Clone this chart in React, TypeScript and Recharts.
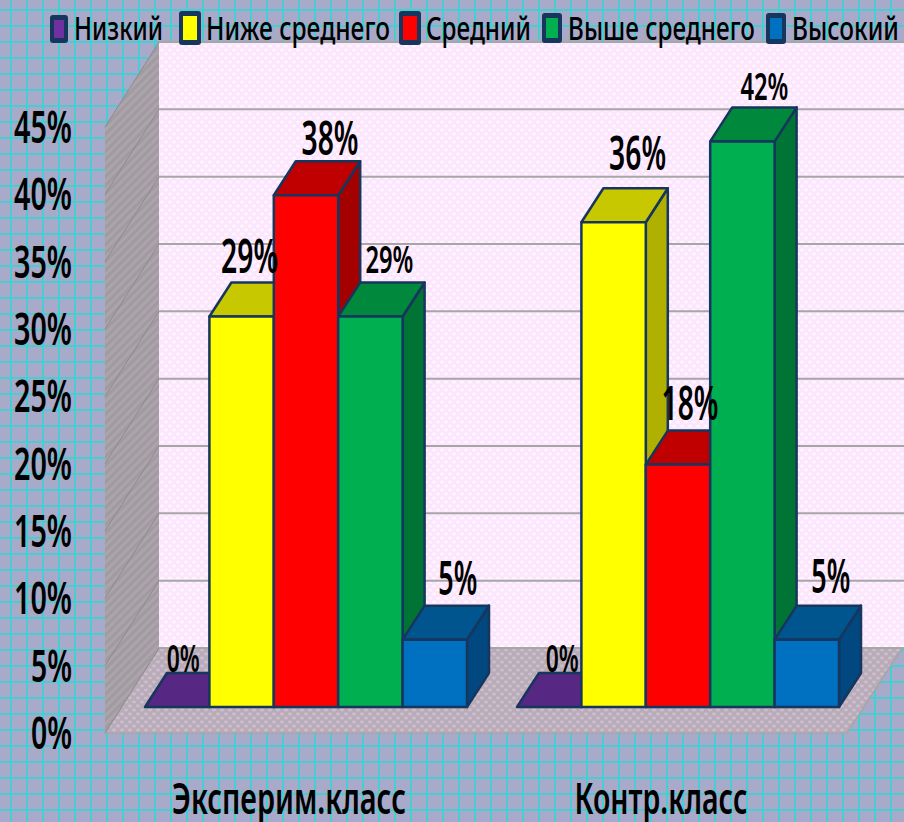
import React, { useLayoutEffect, useRef, useState } from "react";
import { BarChart, Bar, XAxis, YAxis, CartesianGrid, LabelList, Legend } from "recharts";

const categories = ["Эксперим.класс", "Контр.класс"];
const lowValues = [0, 0];
const belowAvgValues = [29, 36];
const avgValues = [38, 18];
const aboveAvgValues = [29, 42];
const highValues = [5, 5];
const percentTicks = [0, 5, 10, 15, 20, 25, 30, 35, 40, 45];

const tableData = categories.map((name, i) => ({
  name,
  low: lowValues[i],
  belowAvg: belowAvgValues[i],
  avg: avgValues[i],
  aboveAvg: aboveAvgValues[i],
  high: highValues[i],
}));

const FONT = "'Noto Sans', sans-serif";
const NAVY = "#17365d";
const DEPTH_X = 22;
const DEPTH_Y = 34;

const SERIES = [
  { key: "low", name: "Низкий", front: "#7030a0", top: "#562783", side: "#4a2070" },
  { key: "belowAvg", name: "Ниже среднего", front: "#ffff00", top: "#c8c800", side: "#b0b000" },
  { key: "avg", name: "Средний", front: "#ff0000", top: "#c00000", side: "#a50000" },
  { key: "aboveAvg", name: "Выше среднего", front: "#00b050", top: "#00883d", side: "#007434" },
  { key: "high", name: "Высокий", front: "#0070c0", top: "#00558f", side: "#00487f" },
];

// hand placement of legend items, x of marker / x and width of text
const LEGEND_LAYOUT: Record<string, any> = {
  low: { mx: 50, mw: 18, my: 15, mh: 28, tx: 74, tw: 89 },
  belowAvg: { mx: 179, mw: 22, my: 11, mh: 34, tx: 206, tw: 184 },
  avg: { mx: 399, mw: 22, my: 11, mh: 34, tx: 426, tw: 105 },
  aboveAvg: { mx: 542, mw: 20, my: 13, mh: 30, tx: 568, tw: 187 },
  high: { mx: 766, mw: 20, my: 13, mh: 31, tx: 792, tw: 107 },
};

// data labels were placed by hand in the original: [dx from bar centre, dy of baseline from bar top]
const LABEL_NUDGE: Record<string, number[][]> = {
  low: [[6, -35], [13, -35]],
  belowAvg: [[8, -43], [24, -52]],
  avg: [[24, -40], [12, -45]],
  aboveAvg: [[19, -43], [22, -41]],
  high: [[23, -45], [24, -47]],
};
const SMALL_LABELS = ["low", "aboveAvg"];

// the source font is very condensed, so squeeze the text horizontally to a measured width
const FitText = ({ x, y, width, anchor = "start", size, weight, children }: any) => {
  const ref = useRef<SVGTextElement>(null);
  const [scale, setScale] = useState(1);
  useLayoutEffect(() => {
    if (ref.current) setScale(width / ref.current.getComputedTextLength());
  }, [width, children]);
  return (
    <text
      ref={ref}
      transform={`translate(${x},${y}) scale(${scale},1)`}
      textAnchor={anchor}
      fontFamily={FONT}
      fontWeight={weight}
      fontSize={size}
      fill="#000"
    >
      {children}
    </text>
  );
};

const Box3D = (props: any) => {
  const { x, y, width, height, front, top, side } = props;
  const r = x + width;
  const b = y + height;
  return (
    <g stroke={NAVY} strokeWidth={2.5} strokeLinejoin="round">
      <polygon fill={side} points={`${r},${y} ${r + DEPTH_X},${y - DEPTH_Y} ${r + DEPTH_X},${b - DEPTH_Y} ${r},${b}`} />
      <polygon fill={top} points={`${x},${y} ${x + DEPTH_X},${y - DEPTH_Y} ${r + DEPTH_X},${y - DEPTH_Y} ${r},${y}`} />
      {height > 0 && <rect x={x} y={y} width={width} height={height} fill={front} />}
    </g>
  );
};

const makeBarLabel = (seriesKey: string) => (props: any) => {
  const { x, y, width, value, index } = props;
  const [dx, dy] = LABEL_NUDGE[seriesKey][index];
  const small = SMALL_LABELS.includes(seriesKey);
  const text = `${value}%`;
  const len = small ? (text.length > 2 ? 48 : 33) : text.length > 2 ? 57 : 39;
  return (
    <FitText x={x + width / 2 + dx} y={y + dy} width={len} anchor="middle" size={small ? 37 : 46} weight={600}>
      {text}
    </FitText>
  );
};

const PercentTick = ({ y, payload }: any) => {
  const text = `${payload.value}%`;
  return (
    <FitText x={72} y={y + 42} width={text.length > 2 ? 58 : 41} anchor="end" size={45} weight={600}>
      {text}
    </FitText>
  );
};

const CategoryTick = ({ x, payload }: any) => (
  <FitText x={x - 17} y={814} width={payload.index === 0 ? 234 : 173} anchor="middle" size={44} weight={600}>
    {payload.value}
  </FitText>
);

const WallLine = ({ y1 }: any) => (
  <g>
    <line x1={105} y1={y1 + 26} x2={159} y2={y1 - 59} stroke="#8f8a8f" strokeWidth={1} />
    <line x1={159} y1={y1 - 59} x2={904} y2={y1 - 59} stroke="#a6a6a6" strokeWidth={2} />
  </g>
);

const ChartLegend = () => (
  <svg width={904} height={60} style={{ display: "block", overflow: "visible" }}>
    {SERIES.map((s) => {
      const l = LEGEND_LAYOUT[s.key];
      return (
        <g key={s.key}>
          <rect x={l.mx} y={l.my} width={l.mw} height={l.mh} rx={3} fill={NAVY} />
          <rect x={l.mx + 4} y={l.my + 5} width={l.mw - 8} height={l.mh - 10} fill={s.front} />
          <FitText x={l.tx} y={40} width={l.tw} size={33} weight={500}>
            {s.name}
          </FitText>
        </g>
      );
    })}
  </svg>
);

// paper, back wall, side wall and floor sit in their own svg behind the chart
const Backdrop = () => (
  <svg width={904} height={822} style={{ position: "absolute", left: 0, top: 0 }}>
    <defs>
      <pattern id="paper" width={16} height={16} patternUnits="userSpaceOnUse" x={3} y={2}>
        <rect width={16} height={16} fill="#a9a9c9" />
        <rect x={7} width={2} height={16} fill="#45cfd3" />
        <rect y={7} width={16} height={2} fill="#45cfd3" />
      </pattern>
      <pattern id="wall" width={8} height={8} patternUnits="userSpaceOnUse">
        <rect width={8} height={8} fill="#fbe6fd" />
        <ellipse cx={2} cy={2} rx={2} ry={1.5} fill="#fff6ff" />
        <ellipse cx={6} cy={6} rx={2} ry={1.5} fill="#fff6ff" />
      </pattern>
      <pattern id="sidewall" width={6} height={6} patternUnits="userSpaceOnUse" patternTransform="rotate(45)">
        <rect width={6} height={6} fill="#aba4aa" />
        <rect width={3} height={6} fill="#a29aa1" />
      </pattern>
      <pattern id="floor" width={8} height={8} patternUnits="userSpaceOnUse">
        <rect width={8} height={8} fill="#b9acb9" />
        <ellipse cx={2} cy={2} rx={2} ry={1.4} fill="#cdbecd" />
        <ellipse cx={6} cy={6} rx={2} ry={1.4} fill="#cdbecd" />
      </pattern>
    </defs>
    <rect x={0} y={0} width={904} height={822} fill="url(#paper)" />
    <polygon points="159,42 904,42 904,648 159,648" fill="url(#wall)" />
    <polygon points="105,127 159,42 159,648 105,733" fill="url(#sidewall)" />
    <polygon points="105,733 847,733 902,648 159,648" fill="url(#floor)" stroke="#a6a6a6" strokeWidth={1.5} />
  </svg>
);

export default function App() {
  return (
    <div style={{ position: "absolute", left: 0, top: 0, width: 904, height: 822 }}>
      <Backdrop />
      <div style={{ position: "absolute", left: 0, top: 0 }}>
        <BarChart
          width={904}
          height={822}
          data={tableData}
          margin={{ top: 0, right: 40, bottom: 0, left: 0 }}
          barSize={64.4}
          barGap={0}
        >
          <Legend content={<ChartLegend />} verticalAlign="top" align="left" height={101} width={904} wrapperStyle={{ left: 0, top: 0 }} />
          <CartesianGrid horizontal={(p: any) => <WallLine key={p.key} {...p} />} vertical={false} syncWithTicks />
          <XAxis dataKey="name" axisLine={false} tickLine={false} height={115} tick={<CategoryTick />} interval={0} />
          <YAxis
            width={120}
            domain={[0, 45]}
            ticks={percentTicks}
            axisLine={false}
            tickLine={false}
            tick={<PercentTick />}
            interval={0}
          />
          {SERIES.map((s) => (
            <Bar
              key={s.key}
              dataKey={s.key}
              name={s.name}
              fill={s.front}
              isAnimationActive={false}
              shape={(p: any) => <Box3D {...p} front={s.front} top={s.top} side={s.side} />}
            >
              <LabelList dataKey={s.key} content={makeBarLabel(s.key)} />
            </Bar>
          ))}
        </BarChart>
      </div>
    </div>
  );
}
